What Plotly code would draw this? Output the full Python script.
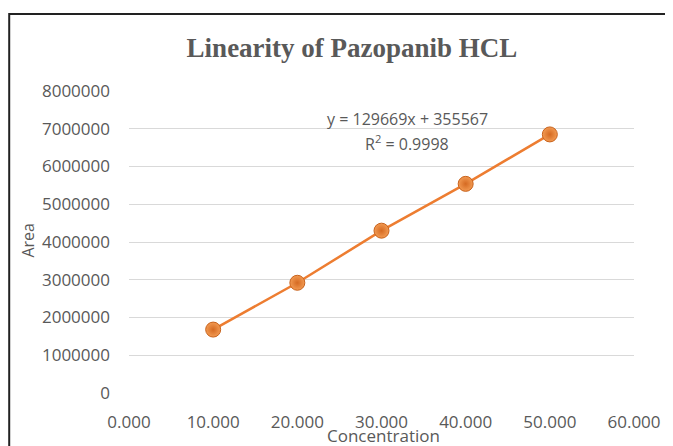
import plotly.graph_objects as go

concentration = [10, 20, 30, 40, 50]
area = [1680000, 2920000, 4300000, 5540000, 6850000]
x_ticks = [0, 10, 20, 30, 40, 50, 60]
y_ticks = [0, 1000000, 2000000, 3000000, 4000000, 5000000, 6000000, 7000000, 8000000]
equation_text = "y = 129669x + 355567"
r2_text = "R<sup>2</sup> = 0.9998"

# page has an 8px body margin; figure coords = page coords - 8
OFF = 8
W, H = 665, 438
L, R, T, B = 129 - OFF, 36, 91 - OFF, 53
pw, ph = W - L - R, H - T - B

def px_x(p):
    return (p - OFF - L) / pw

def px_y(p):
    return 1 - (p - OFF - T) / ph

orange = "#ED7D31"
grey = "#595959"
sans = "Open Sans, Noto Sans, sans-serif"

fig = go.Figure()
fig.add_trace(go.Scatter(
    x=concentration, y=area, mode="lines+markers",
    line=dict(color=orange, width=2.5),
    marker=dict(size=15, color="#F29A52", line=dict(color="#C8621C", width=1),
                gradient=dict(type="radial", color="#D56A22")),
    showlegend=False,
))

fig.update_layout(
    width=W, height=H,
    margin=dict(l=L, r=R, t=T, b=B),
    paper_bgcolor="white", plot_bgcolor="white",
    font=dict(family=sans, size=17, color=grey),
    title=dict(text="<b>Linearity of Pazopanib HCL</b>", x=(352 - OFF) / W, xanchor="center",
               y=1 - (48 - OFF) / H, yanchor="middle",
               font=dict(family="Liberation Serif, Times New Roman, serif", size=27, color=grey)),
    xaxis=dict(range=[0, 60], tickvals=x_ticks, tickformat=".3f", showgrid=False,
               zeroline=False, showline=False, ticks="", ticklabelstandoff=17,
               tickfont=dict(family=sans, size=17, color=grey)),
    yaxis=dict(range=[0, 8000000], tickvals=y_ticks, tickformat="d", showgrid=True,
               gridcolor="#D9D9D9", gridwidth=1, zeroline=False, showline=False,
               ticks="", ticklabelstandoff=18, tickfont=dict(family=sans, size=17, color=grey)),
    shapes=[dict(type="rect", xref="paper", yref="paper",
                 x0=px_x(8.5), x1=px_x(720), y0=px_y(480), y1=px_y(14),
                 line=dict(color="#222222", width=2), fillcolor="rgba(0,0,0,0)", layer="below")],
    annotations=[
        dict(text=equation_text, xref="paper", yref="paper",
             x=px_x(409), y=px_y(119), xanchor="center", yanchor="middle", showarrow=False,
             font=dict(family=sans, size=16, color=grey)),
        dict(text=r2_text, xref="paper", yref="paper",
             x=px_x(409), y=px_y(143), xanchor="center", yanchor="middle", showarrow=False,
             font=dict(family=sans, size=16, color=grey)),
        dict(text="Concentration", xref="paper", yref="paper", x=px_x(385), y=px_y(435),
             xanchor="center", yanchor="middle", showarrow=False,
             font=dict(family=sans, size=17, color=grey)),
        dict(text="Area", xref="paper", yref="paper", x=px_x(27), y=px_y(240),
             xanchor="center", yanchor="middle", showarrow=False, textangle=-90,
             font=dict(family=sans, size=16, color=grey)),
    ],
)

fig.write_html("out.html")
